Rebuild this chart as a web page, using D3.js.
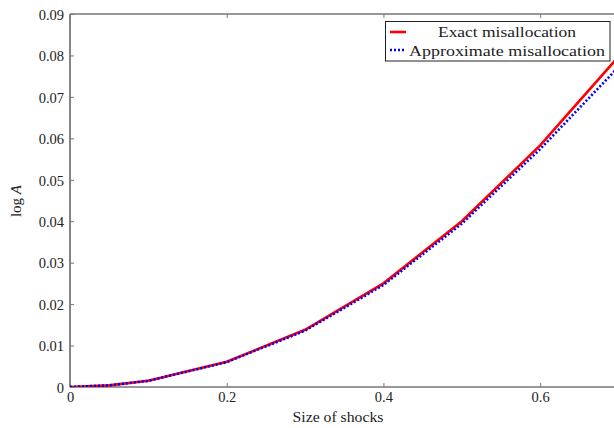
<!DOCTYPE html>
<html><head><meta charset="utf-8">
<script src="https://cdn.jsdelivr.net/npm/d3@7"></script>
<style>body{margin:0;background:#fff;}svg{display:block;}text{font-family:"Liberation Serif",serif;fill:#222;}</style>
</head><body><div id="chart"></div>
<script>
const shocks = [0, 0.05, 0.1, 0.2, 0.3, 0.4, 0.5, 0.6, 0.7];
const exactMis = [0, 0.0004, 0.0015, 0.0061, 0.0138, 0.0250, 0.0400, 0.0583, 0.0797];
const approxMis = [0, 0.0004, 0.0015, 0.0060, 0.0136, 0.0246, 0.0394, 0.0574, 0.0772];
const xTicks = [0, 0.2, 0.4, 0.6];
const yTicks = [0, 0.01, 0.02, 0.03, 0.04, 0.05, 0.06, 0.07, 0.08, 0.09];
const seriesNames = ["Exact misallocation", "Approximate misallocation"];

const W = 614, H = 428;
const FONT = '"Liberation Serif", serif';
const svg = d3.select("#chart").append("svg").attr("width", W).attr("height", H);
const x = d3.scaleLinear().domain([0, 0.7]).range([70, 618.5]);
const y = d3.scaleLinear().domain([0, 0.09]).range([387, 14]);
const axisColor = "#333";

// frame
svg.append("line").attr("x1", x(0)).attr("x2", W + 5).attr("y1", y(0.09)).attr("y2", y(0.09)).attr("stroke", axisColor).attr("stroke-width", 1.2);
svg.append("line").attr("x1", x(0)).attr("x2", W + 5).attr("y1", y(0)).attr("y2", y(0)).attr("stroke", axisColor).attr("stroke-width", 1.2);
svg.append("line").attr("x1", x(0)).attr("x2", x(0)).attr("y1", y(0)).attr("y2", y(0.09)).attr("stroke", axisColor).attr("stroke-width", 1.2);

// y axis
const yAxis = svg.append("g").attr("transform", `translate(${x(0)},0)`)
  .call(d3.axisLeft(y).tickValues(yTicks).tickSize(-4).tickPadding(6)
    .tickFormat(d => d === 0 ? "0" : d3.format(".2f")(d)));
yAxis.attr("font-family", FONT);
yAxis.select(".domain").remove();
yAxis.selectAll("line").attr("stroke", "#777");
yAxis.selectAll("text").style("font-size", "14.5px").style("font-family", FONT).attr("fill", "#222").attr("dy", "0.36em");

// x axis
const xAxis = svg.append("g").attr("transform", `translate(0,${y(0)})`)
  .call(d3.axisBottom(x).tickValues(xTicks).tickSize(-4).tickPadding(5)
    .tickFormat(d => d === 0 ? "0" : d3.format(".1f")(d)));
xAxis.attr("font-family", FONT);
xAxis.select(".domain").remove();
xAxis.selectAll("line").attr("stroke", "#777");
xAxis.selectAll("text").style("font-size", "14.5px").style("font-family", FONT).attr("fill", "#222");

// top ticks
const xTop = svg.append("g").attr("transform", `translate(0,${y(0.09)})`)
  .call(d3.axisTop(x).tickValues(xTicks).tickSize(-4).tickFormat(""));
xTop.select(".domain").remove();
xTop.selectAll("line").attr("stroke", "#777");

// labels
svg.append("text").attr("x", 338).attr("y", 422).attr("text-anchor", "middle").style("font-size", "15px")
  .attr("textLength", 91).attr("lengthAdjust", "spacingAndGlyphs").text("Size of shocks");
const yl = svg.append("text").attr("transform", "translate(21,201) rotate(-90)").attr("text-anchor", "middle").style("font-size", "15px");
yl.append("tspan").text("log ");
yl.append("tspan").style("font-style", "italic").text("A");

// lines
svg.append("clipPath").attr("id", "clip").append("rect").attr("x", 70).attr("y", 14).attr("width", 560).attr("height", 373);
const line = vals => d3.line().x(d => x(d)).y((d, i) => y(vals[i]))(shocks);
svg.append("path").attr("d", line(exactMis)).attr("fill", "none").attr("stroke", "#ff0000").attr("stroke-width", 2.6).attr("clip-path", "url(#clip)");
svg.append("path").attr("d", line(approxMis)).attr("fill", "none").attr("stroke", "#0000ff").attr("stroke-width", 2.6).attr("stroke-dasharray", "2,2").attr("clip-path", "url(#clip)");

// legend
const lg = svg.append("g");
lg.append("rect").attr("x", 385.5).attr("y", 21.5).attr("width", 224.5).attr("height", 39.5).attr("fill", "#fff").attr("stroke", "#222").attr("stroke-width", 1);
lg.append("line").attr("x1", 390).attr("x2", 406).attr("y1", 32).attr("y2", 32).attr("stroke", "#ff0000").attr("stroke-width", 2.6);
lg.append("line").attr("x1", 390).attr("x2", 406).attr("y1", 50).attr("y2", 50).attr("stroke", "#0000ff").attr("stroke-width", 2.6).attr("stroke-dasharray", "2,2");
lg.append("text").attr("x", 507).attr("y", 37).attr("text-anchor", "middle").style("font-size", "15.5px")
  .attr("textLength", 138).attr("lengthAdjust", "spacingAndGlyphs").text(seriesNames[0]);
lg.append("text").attr("x", 507).attr("y", 55.5).attr("text-anchor", "middle").style("font-size", "15.5px")
  .attr("textLength", 196).attr("lengthAdjust", "spacingAndGlyphs").text(seriesNames[1]);
</script></body></html>
